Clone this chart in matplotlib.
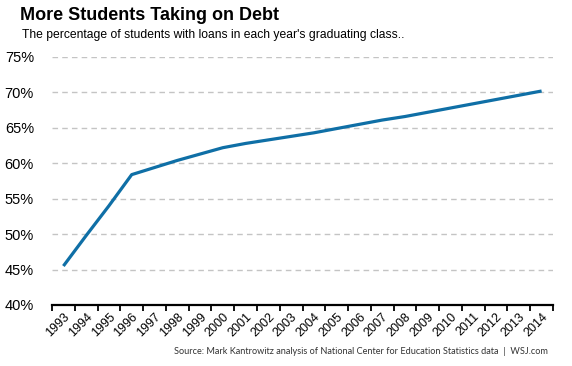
import matplotlib.pyplot as plt
import numpy as np

years = [str(y) for y in range(1993, 2015)]
pct = [45.5, 49.8, 54.0, 58.4, 59.4, 60.4, 61.3, 62.2, 62.8, 63.3, 63.8, 64.3,
       64.9, 65.5, 66.1, 66.6, 67.2, 67.8, 68.4, 69.0, 69.6, 70.2]
yticks = [40, 45, 50, 55, 60, 65, 70, 75]

plt.rcParams['font.family'] = ['Liberation Sans', 'DejaVu Sans']

fig = plt.figure(figsize=(5.72, 3.66), dpi=100)
ax = fig.add_axes([52 / 572, 1 - 305 / 366, 501 / 572, 248 / 366])

x = np.arange(len(years))
ax.plot(x, pct, color='#0f6fa6', lw=2.3, solid_capstyle='butt', zorder=3)

ax.set_xlim(-0.5, len(years) - 0.5)
ax.set_ylim(40, 75)
ax.set_yticks(yticks)
ax.set_yticklabels([f'{v}%' for v in yticks], fontsize=10.5)
for v in yticks[1:]:
    ax.axhline(v, color='#c4c4c4', lw=1, ls=(0, (4, 3)), zorder=1)

# category axis: ticks between categories, labels at centers
ax.set_xticks(np.arange(-0.5, len(years), 1))
ax.set_xticklabels([])
ax.set_xticks(x, minor=True)
ax.set_xticklabels(years, minor=True, rotation=45, ha='right',
                   rotation_mode='anchor', fontsize=9)
ax.tick_params(axis='x', which='major', direction='out', length=4, width=1.3, color='black')
ax.tick_params(axis='x', which='minor', length=0, pad=4)
ax.tick_params(axis='y', length=0, pad=13)

for s in ['top', 'right', 'left']:
    ax.spines[s].set_visible(False)
ax.spines['bottom'].set_linewidth(1.6)

fig.text(20 / 572, 1 - 16 / 366, 'More Students Taking on Debt', fontsize=13,
         fontweight='bold', va='center', ha='left')
fig.text(22 / 572, 1 - 35 / 366,
         "The percentage of students with loans in each year's graduating class..",
         fontsize=8.7, va='center', ha='left')
fig.text(548 / 572, 1 - 351 / 366,
         'Source: Mark Kantrowitz analysis of National Center for Education Statistics data  |  WSJ.com',
         fontsize=6.6, va='center', ha='right', color='#333333', family=['Lato', 'DejaVu Sans'])

fig.savefig('out.png', dpi=100)
